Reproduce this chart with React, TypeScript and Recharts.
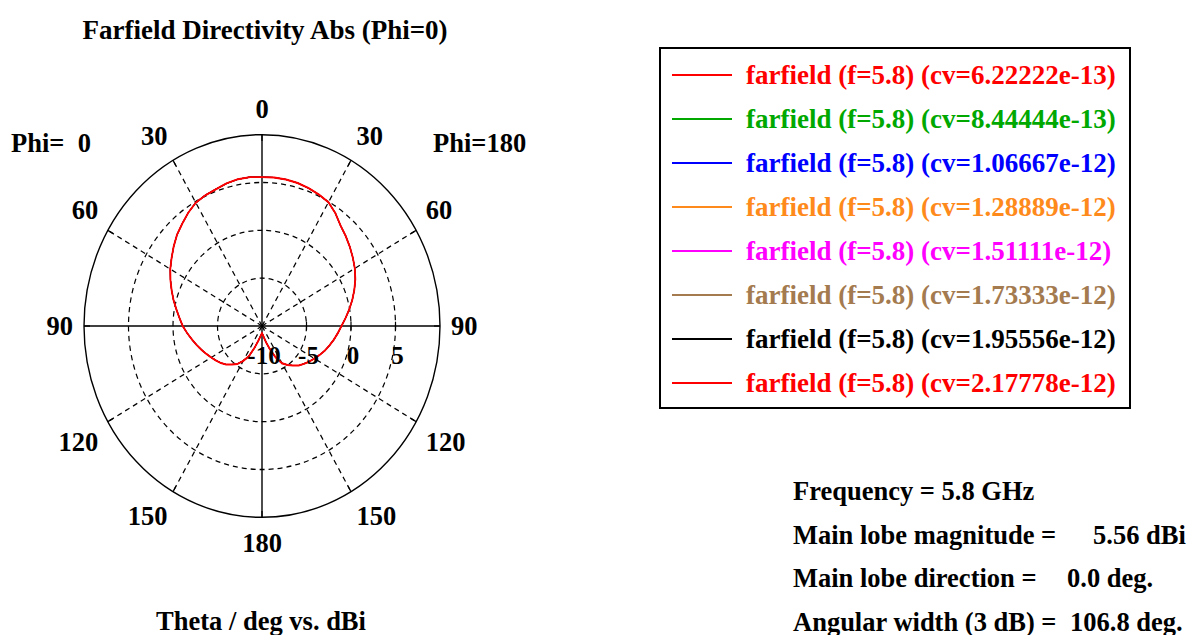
import React from 'react'
import { RadarChart, Radar, PolarGrid, PolarAngleAxis, PolarRadiusAxis } from 'recharts'

// theta measured clockwise from the top (right half = Phi 180, left half = Phi 0)
const thetaDeg = [
  0, 5, 10, 15, 20, 25, 30, 35, 40, 45, 50, 55, 60, 65, 70, 75, 80, 85,
  90, 95, 100, 105, 110, 115, 120, 125, 130, 135, 140, 145, 150, 155, 160, 165, 170, 175,
  180, 185, 190, 195, 200, 205, 210, 215, 220, 225, 230, 235, 240, 245, 250, 255, 260, 265,
  270, 275, 280, 285, 290, 295, 300, 305, 310, 315, 320, 325, 330, 335, 340, 345, 350, 355,
]

const directivityDb = [
  5.56, 5.58, 5.55, 5.47, 5.33, 5.15, 4.93, 4.38, 3.72, 3.3, 2.88, 2.46, 2.04, 1.57, 1.04, 0.5, -0.05, -0.58,
  -1.07, -1.45, -1.8, -2.15, -2.48, -2.85, -3.2, -3.52, -3.85, -4.17, -4.6, -5.02, -5.5, -6.4, -7.45, -8.25, -8.8, -9.1,
  -9.24, -9.1, -8.85, -8.4, -7.6, -6.5, -5.8, -5.15, -4.75, -4.3, -3.98, -3.7, -3.42, -3.1, -2.75, -2.38, -2.0, -1.55,
  -1.09, -0.7, -0.25, 0.28, 0.8, 1.35, 1.9, 2.4, 2.95, 3.5, 3.95, 4.45, 4.88, 5.07, 5.2, 5.43, 5.58, 5.62,
]

const seriesNames = [
  'farfield (f=5.8) (cv=6.22222e-13)',
  'farfield (f=5.8) (cv=8.44444e-13)',
  'farfield (f=5.8) (cv=1.06667e-12)',
  'farfield (f=5.8) (cv=1.28889e-12)',
  'farfield (f=5.8) (cv=1.51111e-12)',
  'farfield (f=5.8) (cv=1.73333e-12)',
  'farfield (f=5.8) (cv=1.95556e-12)',
  'farfield (f=5.8) (cv=2.17778e-12)',
]
const seriesColors = ['#ff0000', '#00a800', '#0000ff', '#ff8a1c', '#ff00ff', '#a47a4f', '#000000', '#ff0000']

const radiusTicks = [-10, -5, 0, 5, 10]
const infoLabels = ['Frequency = 5.8 GHz', 'Main lobe magnitude =', 'Main lobe direction =', 'Angular width (3 dB) =']
const infoValues = ['', '5.56 dBi', '0.0 deg.', '106.8 deg.']
const infoValueLeft = [0, 1093, 1067, 1070]

const chartData = thetaDeg.map((theta, i) => ({ theta, db: directivityDb[i] }))

const DB_MIN = -10
const DB_MAX = 10
const CX = 262
const CY = 326
const R = 178
const SY = 1.075 // the plot is a little taller than wide
const TICK_SIZE = 20
const LABEL_BASE = 189
const FONT = '"Liberation Serif", "Times New Roman", serif'

const ringPx = [-5, 0, 5].map((v) => ((v - DB_MIN) / (DB_MAX - DB_MIN)) * R)

const sgn = (v: number) => (Math.abs(v) < 0.01 ? 0 : Math.sign(v))

const AngleTick = (props: any) => {
  const { x, y, payload } = props
  const theta = Number(payload.value)
  if (theta % 30 !== 0) return null
  const a = (payload.coordinate * Math.PI) / 180
  const ux = Math.cos(a)
  const uy = -Math.sin(a)
  const cx = x - (R + TICK_SIZE) * ux
  const cy = y - (R + TICK_SIZE) * uy
  const text = String(theta <= 180 ? theta : 360 - theta)
  const hw = (text.length * 13.3) / 2
  const lx = cx + LABEL_BASE * ux + sgn(ux) * hw
  const ly = cy + LABEL_BASE * uy + (sgn(uy) * 14) / SY
  return (
    <g>
      <line x1={cx + R * ux} y1={cy + R * uy} x2={cx + (R - 6) * ux} y2={cy + (R - 6) * uy} stroke="#000" strokeWidth={1.2} />
      <text
        transform={`translate(${lx},${ly}) scale(1,${1 / SY})`}
        textAnchor="middle"
        dominantBaseline="central"
        fontFamily={FONT}
        fontWeight="bold"
        fontSize={26.5}
        fill="#000"
      >
        {text}
      </text>
    </g>
  )
}

const makeRadiusTick = (vertical: boolean, withLabel: boolean) => (props: any) => {
  const { x, y, payload } = props
  const v = Number(payload.value)
  if (v >= DB_MAX) return null
  return (
    <g>
      {v > DB_MIN &&
        (vertical ? (
          <line x1={x - 4} x2={x + 4} y1={y} y2={y} stroke="#000" strokeWidth={1.2} />
        ) : (
          <line x1={x} x2={x} y1={y - 4} y2={y + 4} stroke="#000" strokeWidth={1.2} />
        ))}
      {withLabel && (
        <text
          transform={`translate(${x + 2},${y + 29 / SY}) scale(1,${1 / SY})`}
          textAnchor="middle"
          dominantBaseline="central"
          fontFamily={FONT}
          fontWeight="bold"
          fontSize={25}
          fill="#000"
        >
          {v}
        </text>
      )}
    </g>
  )
}

const textStyle: React.CSSProperties = {
  position: 'absolute',
  fontFamily: FONT,
  fontWeight: 700,
  fontSize: 27,
  lineHeight: '27px',
  whiteSpace: 'pre',
  color: '#000',
}

export default function App() {
  return (
    <div style={{ position: 'absolute', left: 0, top: 0, width: 1197, height: 635, background: '#fff', overflow: 'hidden' }}>
      <div
        style={{
          position: 'absolute',
          left: 0,
          top: 0,
          width: 540,
          height: 635,
          transform: `scaleY(${SY})`,
          transformOrigin: `${CX}px ${CY}px`,
        }}
      >
        <RadarChart
          width={540}
          height={635}
          data={chartData}
          cx={CX}
          cy={CY}
          innerRadius={0}
          outerRadius={R}
          startAngle={90}
          endAngle={-270}
          margin={{ top: 0, right: 0, bottom: 0, left: 0 }}
        >
          <PolarGrid
            gridType="circle"
            polarRadius={ringPx}
            polarAngles={[30, 60, 120, 150, 210, 240, 300, 330]}
            stroke="#000"
            strokeWidth={1.2}
            strokeDasharray="5 4"
          />
          <PolarGrid gridType="circle" polarRadius={[R]} polarAngles={[0, 90, 180, 270]} stroke="#000" strokeWidth={1.4} />
          <PolarAngleAxis dataKey="theta" axisLine={false} tickLine={false} tickSize={TICK_SIZE} tick={<AngleTick />} />
          <PolarRadiusAxis angle={0} domain={[DB_MIN, DB_MAX]} ticks={radiusTicks} tickCount={5} axisLine={false} tick={makeRadiusTick(false, true)} />
          <PolarRadiusAxis radiusAxisId="left" angle={180} domain={[DB_MIN, DB_MAX]} ticks={radiusTicks} tickCount={5} axisLine={false} tick={makeRadiusTick(false, false)} />
          <PolarRadiusAxis radiusAxisId="up" angle={90} domain={[DB_MIN, DB_MAX]} ticks={radiusTicks} tickCount={5} axisLine={false} tick={makeRadiusTick(true, false)} />
          <PolarRadiusAxis radiusAxisId="down" angle={270} domain={[DB_MIN, DB_MAX]} ticks={radiusTicks} tickCount={5} axisLine={false} tick={makeRadiusTick(true, false)} />
          {seriesNames.map((name, i) => (
            <Radar
              key={i}
              name={name}
              dataKey="db"
              stroke={seriesColors[i]}
              strokeWidth={i === seriesNames.length - 1 ? 1.8 : 1}
              fill="none"
              fillOpacity={0}
              dot={false}
              isAnimationActive={false}
            />
          ))}
        </RadarChart>
      </div>

      <div style={{ ...textStyle, left: 65, width: 400, top: 17, textAlign: 'center' }}>Farfield Directivity Abs (Phi=0)</div>
      <div style={{ ...textStyle, fontSize: 26.5, left: 11, top: 130 }}>{'Phi=  0'}</div>
      <div style={{ ...textStyle, fontSize: 26.5, left: 433, top: 130 }}>Phi=180</div>
      <div style={{ ...textStyle, fontSize: 26.5, left: 61, width: 400, top: 608, textAlign: 'center' }}>Theta / deg vs. dBi</div>

      <div
        style={{
          position: 'absolute',
          left: 659,
          top: 47,
          width: 468,
          height: 358,
          border: '2px solid #000',
          background: '#fff',
        }}
      />
      {seriesNames.map((name, i) => (
        <React.Fragment key={i}>
          <div
            style={{
              position: 'absolute',
              left: 672,
              top: Math.round(74 + i * 44.05),
              width: 60,
              height: 2,
              backgroundColor: seriesColors[i],
            }}
          />
          <div style={{ ...textStyle, left: 746, top: 62 + i * 44.05, color: seriesColors[i] }}>{name}</div>
        </React.Fragment>
      ))}

      {infoLabels.map((label, i) => (
        <React.Fragment key={i}>
          <div style={{ ...textStyle, fontSize: 26.5, left: 793, top: 478 + i * 43.5 }}>{label}</div>
          {infoValues[i] && (
            <div style={{ ...textStyle, fontSize: 26.5, left: infoValueLeft[i], top: 478 + i * 43.5 }}>{infoValues[i]}</div>
          )}
        </React.Fragment>
      ))}
    </div>
  )
}
